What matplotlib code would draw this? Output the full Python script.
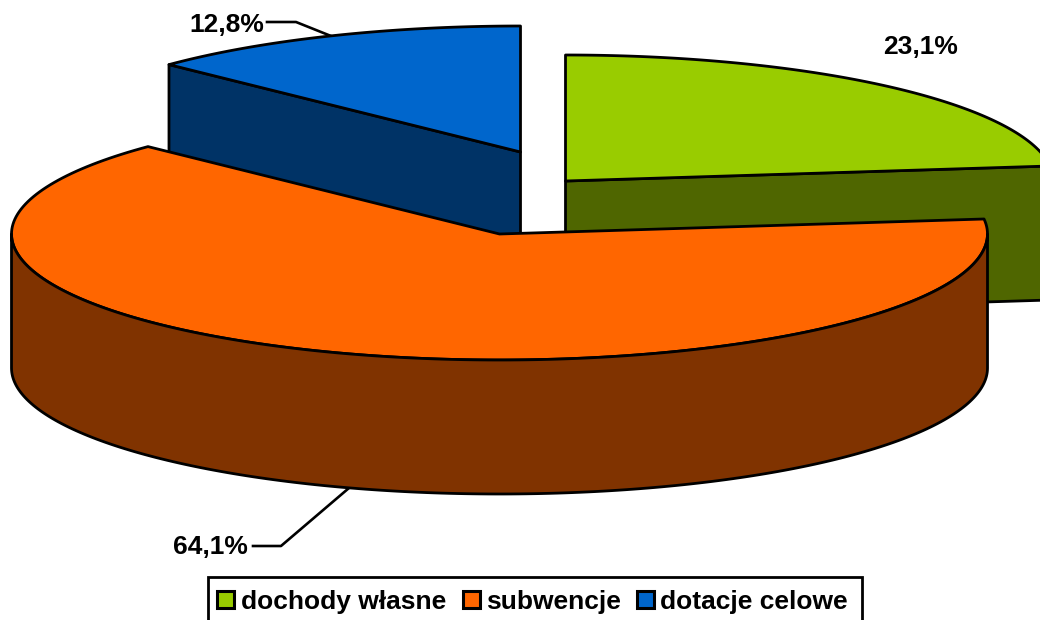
import numpy as np
import matplotlib
matplotlib.use("Agg")
import matplotlib.pyplot as plt
from matplotlib.patches import Polygon, Rectangle

categories = ["dochody własne", "subwencje", "dotacje celowe"]
values = [23.1, 64.1, 12.8]
value_labels = ["23,1%", "64,1%", "12,8%"]

top_colors = ["#99CC00", "#FF6600", "#0066CC"]
side_colors = ["#4F6600", "#803300", "#003366"]

plt.rcParams["font.family"] = ["Liberation Sans", "DejaVu Sans"]

# pie geometry in pixels
RX = 488
RY = 126
DEPTH = 134
LW = 2.0
centers = [(565.5, 181), (499.5, 234), (520.5, 152)]


def ell(cx, cy, deg):
    # deg runs clockwise from the top of the pie
    rad = np.radians(deg)
    return cx + RX * np.sin(rad), cy - RY * np.cos(rad)


def draw_poly(ax, pts, color, z):
    ax.add_patch(Polygon(pts, closed=True, facecolor=color, edgecolor="black",
                         linewidth=LW, joinstyle="round", zorder=z))


fig = plt.figure(figsize=(10.4, 6.2), dpi=100)
ax = fig.add_axes([0, 0, 1, 1])
ax.set_xlim(0, 1040)
ax.set_ylim(620, 0)
ax.axis("off")

edges = np.cumsum([0] + values) * 3.6
starts = edges[:-1]
ends = edges[1:]

# green: radial wall facing us
cx, cy = centers[0]
ex, ey = ell(cx, cy, ends[0])
draw_poly(ax, [(cx, cy), (ex, ey), (ex, ey + DEPTH), (cx, cy + DEPTH)], side_colors[0], 1)

# blue: radial wall on the left
cx, cy = centers[2]
sx, sy = ell(cx, cy, starts[2])
draw_poly(ax, [(cx, cy), (sx, sy), (sx, sy + DEPTH), (cx, cy + DEPTH)], side_colors[2], 1)

# orange: outer rim, only the front half shows
cx, cy = centers[1]
rim = np.linspace(90, 270, 200)
rx, ry = ell(cx, cy, rim)
rim_pts = list(zip(rx, ry)) + list(zip(rx[::-1], ry[::-1] + DEPTH))
draw_poly(ax, rim_pts, side_colors[1], 3)

# top faces
orders = [2, 2, 4]
for i in range(3):
    cx, cy = centers[i]
    a = np.linspace(starts[i], ends[i], 200)
    x, y = ell(cx, cy, a)
    pts = [(cx, cy)] + list(zip(x, y))
    draw_poly(ax, pts, top_colors[i], orders[i])

# labels and leader lines
ax.text(958, 46.5, value_labels[0], ha="right", va="center", fontsize=19, fontweight="bold")
ax.text(248, 547, value_labels[1], ha="right", va="center", fontsize=19, fontweight="bold")
ax.text(264, 24.5, value_labels[2], ha="right", va="center", fontsize=19, fontweight="bold")
ax.plot([253, 281, 349], [546, 546, 488], color="black", lw=1.9, zorder=0)
ax.plot([267, 296, 331], [22, 22, 36], color="black", lw=1.9, zorder=0)

# legend box runs off the bottom of the image
ax.add_patch(Rectangle((208, 577), 654, 60, facecolor="white", edgecolor="black",
                       linewidth=2.0, zorder=5))
swatch_x = [217, 463, 637]
text_x = [241, 486, 660]
for i in range(3):
    ax.add_patch(Rectangle((swatch_x[i], 591), 17, 17, facecolor=top_colors[i],
                           edgecolor="black", linewidth=2.2, zorder=6))
    ax.text(text_x[i], 601.5, categories[i], ha="left", va="center", fontsize=19,
            fontweight="bold", zorder=6)

fig.savefig("out.png", dpi=100)
